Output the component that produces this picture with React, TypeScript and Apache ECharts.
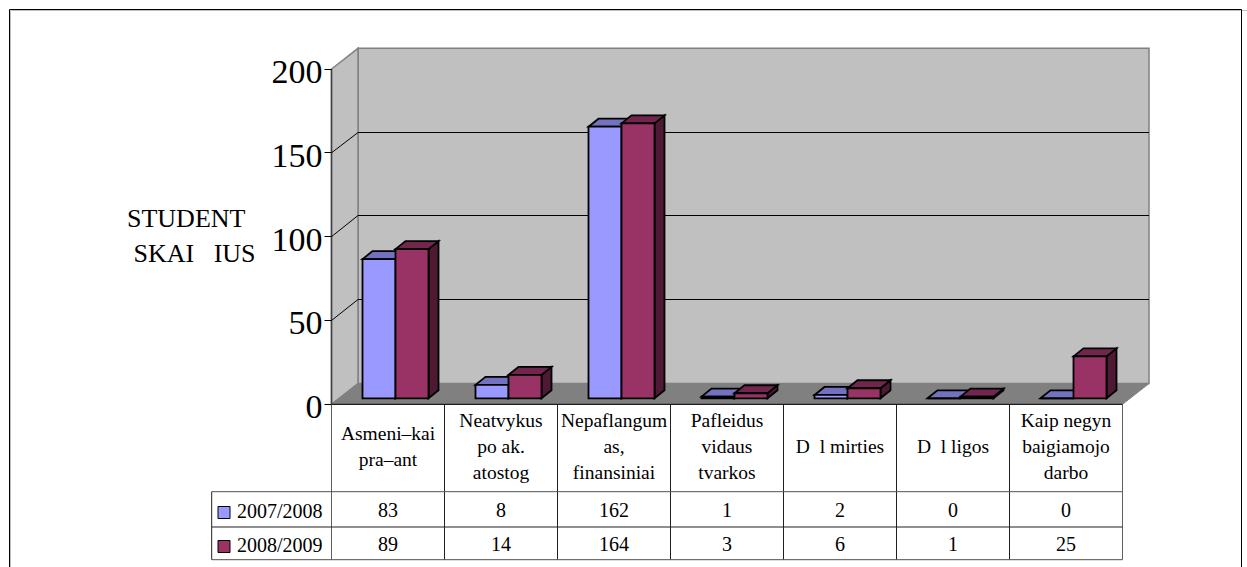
import React, { useEffect, useRef } from "react";
import * as echarts from "echarts";

const categories = [
  "Asmeni–kai\npra–ant",
  "Neatvykus\npo ak.\natostog",
  "Nepaflangum\nas,\nfinansiniai",
  "Pafleidus\nvidaus\ntvarkos",
  "D  l mirties",
  "D  l ligos",
  "Kaip negyn\nbaigiamojo\ndarbo",
];
const seriesNames = ["2007/2008", "2008/2009"];
const values2007 = [83, 8, 162, 1, 2, 0, 0];
const values2008 = [89, 14, 164, 3, 6, 1, 25];
const yTicks = [0, 50, 100, 150, 200];
const axisTitle = "STUDENT\n SKAI   IUS";

const BLUE = { front: "#9999FF", top: "#7272C0", side: "#4C4C80" };
const RED = { front: "#993366", top: "#73264D", side: "#4D1933" };
const WALL = "#C0C0C0";
const FLOOR = "#808080";
const FONT = "'Liberation Serif', 'Times New Roman', serif";

const GRID = { left: 331.5, top: 69, right: 1122.5, bottom: 404.3 };
const DX = 26.5;
const DY = -20.7;
const BAR_DX = 10;
const BAR_DY = -8;
const BAR_W = 33;
const BAR_BACK = { x: 7.5, y: -6 };
const BAR_STROKE = 1.8;
const ROW_TOP = 491.7;
const ROW_MID = 527;
const ROW_BOTTOM = 559.7;
const TABLE_LEFT = 211.7;

function poly(points: number[][], fill: string, stroke: any, lineWidth = 1) {
  return { type: "polygon", shape: { points }, style: { fill, stroke, lineWidth } };
}
function line(x1: number, y1: number, x2: number, y2: number, stroke: string, lineWidth = 1) {
  return { type: "line", shape: { x1, y1, x2, y2 }, style: { stroke, lineWidth, fill: "none" } };
}
function plotEnds(api: any) {
  const band = api.size([1, 0])[0];
  const x0 = api.coord([0, 0])[0] - band / 2;
  return { band, x0, x1: x0 + band * categories.length };
}
function crisp(v: number) {
  return Math.floor(v) + 0.5;
}

function renderWalls(_p: any, api: any) {
  const { x0, x1 } = plotEnds(api);
  const y0 = api.coord([0, 0])[1];
  const yt = api.coord([0, 200])[1];
  return {
    type: "group",
    children: [
      poly([[x0 + DX, y0 + DY], [x1 + DX, y0 + DY], [x1 + DX, yt + DY], [x0 + DX, yt + DY]], WALL, "#808080", 1.5),
      poly([[x0, y0], [x0 + DX, y0 + DY], [x0 + DX, yt + DY], [x0, yt]], WALL, "#808080", 1.5),
      poly([[x0, y0], [x1, y0], [x1 + DX, y0 + DY], [x0 + DX, y0 + DY]], FLOOR, "#808080", 1),
      line(x0, y0, x0, yt, "#404040", 1.5),
    ],
  };
}

function renderGridline(_p: any, api: any) {
  const v = api.value(0);
  const { x0, x1 } = plotEnds(api);
  const y = api.coord([0, v])[1];
  const children: any[] = [line(x0 - 7, crisp(y), x0, crisp(y), "#000", 1)];
  if (v > 0 && v < 200) {
    const back = crisp(y + DY);
    children.push(line(x0, y, x0 + DX, back, "#000", 1));
    children.push(line(x0 + DX, back, x1 + DX, back, "#000", 1));
  }
  return { type: "group", children };
}

function makeBarRenderer(colors: typeof BLUE, offset: number) {
  return (_p: any, api: any) => {
    const cat = api.value(0);
    const v = api.value(1);
    const [cx, yv] = api.coord([cat, v]);
    const y0 = api.coord([cat, 0])[1];
    const l = cx + offset + BAR_BACK.x;
    const r = l + BAR_W;
    const b = y0 + BAR_BACK.y;
    const t = yv + BAR_BACK.y;
    return {
      type: "group",
      children: [
        poly([[r, b], [r + BAR_DX, b + BAR_DY], [r + BAR_DX, t + BAR_DY], [r, t]], colors.side, "#000", BAR_STROKE),
        poly([[l, t], [l + BAR_DX, t + BAR_DY], [r + BAR_DX, t + BAR_DY], [r, t]], colors.top, "#000", BAR_STROKE),
        poly([[l, b], [r, b], [r, t], [l, t]], colors.front, "#000", BAR_STROKE),
      ],
    };
  };
}

function renderCellText(_p: any, api: any) {
  const cat = api.value(0);
  const v = api.value(1);
  const row = api.value(2);
  const cx = api.coord([cat, 0])[0];
  return {
    type: "text",
    x: cx,
    y: row === 0 ? 510 : 544,
    style: { text: String(v), fill: "#000", font: `20px ${FONT}`, align: "center", verticalAlign: "middle" },
  };
}

function renderTable(_p: any, api: any) {
  const { band, x0, x1 } = plotEnds(api);
  const children: any[] = [];
  for (let i = 0; i <= categories.length; i++) {
    const x = x0 + band * i;
    children.push(line(x, GRID.bottom, x, ROW_BOTTOM, i === categories.length || i === 0 ? "#606060" : "#202020", 1));
  }
  children.push(line(x0, GRID.bottom, x1, GRID.bottom, "#000", 1));
  children.push(line(TABLE_LEFT, ROW_TOP, x1, ROW_TOP, "#505050", 1));
  children.push(line(TABLE_LEFT, ROW_MID, x1, ROW_MID, "#202020", 1));
  children.push(line(TABLE_LEFT, ROW_BOTTOM, x1, ROW_BOTTOM, "#505050", 1));
  children.push(line(TABLE_LEFT, ROW_TOP, TABLE_LEFT, ROW_BOTTOM, "#202020", 1));
  return { type: "group", children };
}

export default function App() {
  const ref = useRef<HTMLDivElement>(null);
  useEffect(() => {
    const chart = echarts.init(ref.current!, undefined, { renderer: "svg" });
    chart.setOption({
      animation: false,
      backgroundColor: "#fff",
      textStyle: { fontFamily: FONT },
      grid: {
        left: GRID.left,
        top: GRID.top,
        width: GRID.right - GRID.left,
        height: GRID.bottom - GRID.top,
      },
      xAxis: {
        type: "category",
        data: categories,
        axisTick: { show: false },
        axisLine: { show: false },
        splitLine: { show: false },
        axisLabel: {
          interval: 0,
          margin: 42.5,
          color: "#000",
          fontFamily: FONT,
          fontSize: 19.5,
          lineHeight: 26,
          align: "center",
          verticalAlign: "middle",
        },
      },
      yAxis: {
        type: "value",
        min: 0,
        max: 200,
        interval: 50,
        axisLine: { show: false },
        axisTick: { show: false },
        splitLine: { show: false },
        axisLabel: {
          margin: 9,
          formatter: "{v|{value}}",
          rich: { v: { color: "#000", fontFamily: FONT, fontSize: 34, padding: [5, 0, 0, 0] } },
        },
      },
      series: [
        { type: "custom", coordinateSystem: "cartesian2d", silent: true, z: 1, renderItem: renderWalls, data: [[0, 0]], encode: { x: 0, y: 1 } },
        { type: "custom", silent: true, z: 2, renderItem: renderGridline, data: yTicks.map((v) => [v]), encode: { y: 0 } },
        { type: "custom", silent: true, z: 5, name: seriesNames[0], renderItem: makeBarRenderer(BLUE, -BAR_W), data: values2007.map((v, i) => [i, v]), encode: { x: 0, y: 1 } },
        { type: "custom", silent: true, z: 6, name: seriesNames[1], renderItem: makeBarRenderer(RED, 0), data: values2008.map((v, i) => [i, v]), encode: { x: 0, y: 1 } },
        { type: "custom", silent: true, z: 7, renderItem: renderTable, data: [[0, 0]], encode: { x: 0, y: 1 } },
        {
          type: "custom",
          silent: true,
          z: 8,
          renderItem: renderCellText,
          data: [...values2007.map((v, i) => [i, v, 0]), ...values2008.map((v, i) => [i, v, 1])],
          encode: { x: 0, y: 1 },
        },
      ],
      graphic: [
        { type: "rect", shape: { x: 10.5, y: 10.5, width: 1240, height: 600 }, style: { fill: "none", stroke: "#C0C0C0", lineWidth: 1 }, z: 0, silent: true },
        { type: "rect", shape: { x: 9.5, y: 9.5, width: 1232, height: 600 }, style: { fill: "none", stroke: "#000", lineWidth: 1 }, z: 0, silent: true },
        { type: "text", x: 127, y: 201, style: { text: axisTitle, font: `26px ${FONT}`, fill: "#000", lineHeight: 35 }, z: 20 },
        { type: "rect", shape: { x: 218, y: 506.5, width: 12, height: 12 }, style: { fill: BLUE.front, stroke: "#000", lineWidth: 1 }, z: 20 },
        { type: "rect", shape: { x: 218, y: 540.5, width: 12, height: 12 }, style: { fill: RED.front, stroke: "#000", lineWidth: 1 }, z: 20 },
        { type: "text", x: 237, y: 511, style: { text: seriesNames[0], font: `20px ${FONT}`, fill: "#000", verticalAlign: "middle" }, z: 20 },
        { type: "text", x: 237, y: 545, style: { text: seriesNames[1], font: `20px ${FONT}`, fill: "#000", verticalAlign: "middle" }, z: 20 },
      ],
    });
    return () => chart.dispose();
  }, []);
  return <div ref={ref} style={{ position: "absolute", left: 0, top: 0, width: 1247, height: 567 }} />;
}
